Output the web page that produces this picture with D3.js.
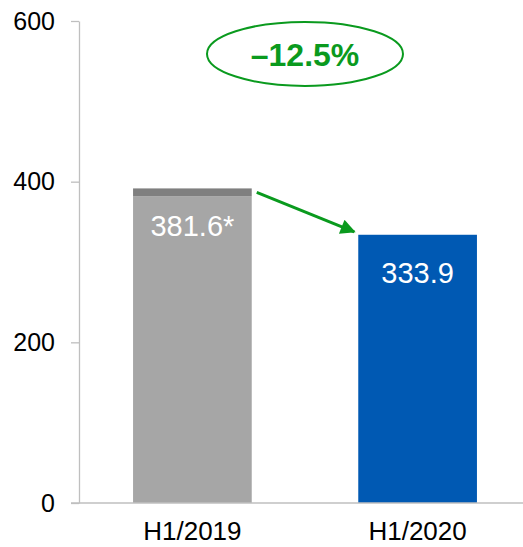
<!DOCTYPE html>
<html>
<head>
<meta charset="utf-8">
<script src="https://cdn.jsdelivr.net/npm/d3@7"></script>
<style>
  body { margin: 0; background: #fff; }
  svg { display: block; font-family: "Liberation Sans", Arial, sans-serif; }
</style>
</head>
<body>
<div id="chart"></div>
<script>
// data
const categories = ["H1/2019", "H1/2020"];
const values = [381.6, 333.9];
const extra = [10, 0];          // darker cap on top of the 2019 bar
const valueLabels = ["381.6*", "333.9"];
const barColors = ["#a6a6a6", "#0059b3"];
const yTicks = [0, 200, 400, 600];
const changeLabel = "\u201312.5%";

const width = 523, height = 547;
const marginTop = 21, marginBottom = 44, marginLeft = 79;

const svg = d3.select("#chart").append("svg")
    .attr("width", width)
    .attr("height", height)
    .attr("viewBox", [0, 0, width, height]);

const x = d3.scaleBand()
    .domain(categories)
    .range([marginLeft, 531])
    .paddingInner(0.473)
    .paddingOuter(0.24);

const y = d3.scaleLinear()
    .domain([0, 600])
    .range([height - marginBottom, marginTop]);

// y axis
svg.append("g")
    .attr("transform", `translate(${marginLeft},0)`)
    .call(d3.axisLeft(y).tickValues(yTicks).tickSize(8).tickPadding(16).tickSizeOuter(0))
    .call(g => g.selectAll("line, .domain").attr("stroke", "#bfbfbf").attr("stroke-width", 1.3))
    .call(g => g.selectAll("text").attr("font-size", 25).attr("fill", "#000").attr("font-family", null));

// bars
const bars = svg.append("g");
categories.forEach((c, i) => {
    bars.append("rect")
        .attr("x", x(c))
        .attr("width", x.bandwidth())
        .attr("y", y(values[i]))
        .attr("height", y(0) - y(values[i]))
        .attr("fill", barColors[i]);
    if (extra[i] > 0) {
        bars.append("rect")
            .attr("x", x(c))
            .attr("width", x.bandwidth())
            .attr("y", y(values[i] + extra[i]))
            .attr("height", y(values[i]) - y(values[i] + extra[i]))
            .attr("fill", "#7f7f7f");
    }
    bars.append("text")
        .attr("x", x(c) + x.bandwidth() / 2)
        .attr("y", y(values[i] + extra[i]) + 48)
        .attr("text-anchor", "middle")
        .attr("font-size", 29)
        .attr("fill", "#fff")
        .text(valueLabels[i]);
});

// x axis baseline + labels
svg.append("line")
    .attr("x1", marginLeft - 8).attr("x2", width)
    .attr("y1", y(0)).attr("y2", y(0))
    .attr("stroke", "#bfbfbf").attr("stroke-width", 1.3);

svg.append("g")
    .selectAll("text")
    .data(categories)
    .join("text")
    .attr("x", d => x(d) + x.bandwidth() / 2)
    .attr("y", y(0) + 37)
    .attr("text-anchor", "middle")
    .attr("font-size", 26)
    .attr("fill", "#000")
    .text(d => d);

// change arrow
const green = "#0a9a1e";
svg.append("defs").append("marker")
    .attr("id", "head")
    .attr("viewBox", "0 0 10 10")
    .attr("refX", 9).attr("refY", 5)
    .attr("markerWidth", 6).attr("markerHeight", 5)
    .attr("markerUnits", "strokeWidth")
    .attr("orient", "auto")
    .append("path")
    .attr("d", "M0,0L10,5L0,10Z")
    .attr("fill", green);

const x0 = x(categories[0]) + x.bandwidth() + 5;
const y0 = y(values[0] + extra[0]) + 4;
const x1 = x(categories[1]) - 4;
const y1 = y(values[1]) - 3;
svg.append("line")
    .attr("x1", x0).attr("y1", y0)
    .attr("x2", x1).attr("y2", y1)
    .attr("stroke", green)
    .attr("stroke-width", 3)
    .attr("marker-end", "url(#head)");

// change badge
const cx = (x(categories[0]) + x(categories[1]) + x.bandwidth()) / 2;
const cy = y(559);
svg.append("ellipse")
    .attr("cx", cx).attr("cy", cy)
    .attr("rx", 98).attr("ry", 32)
    .attr("fill", "none")
    .attr("stroke", green)
    .attr("stroke-width", 2);
svg.append("text")
    .attr("x", cx).attr("y", cy + 12)
    .attr("text-anchor", "middle")
    .attr("font-size", 32)
    .attr("font-weight", "bold")
    .attr("fill", green)
    .text(changeLabel);
</script>
</body>
</html>
